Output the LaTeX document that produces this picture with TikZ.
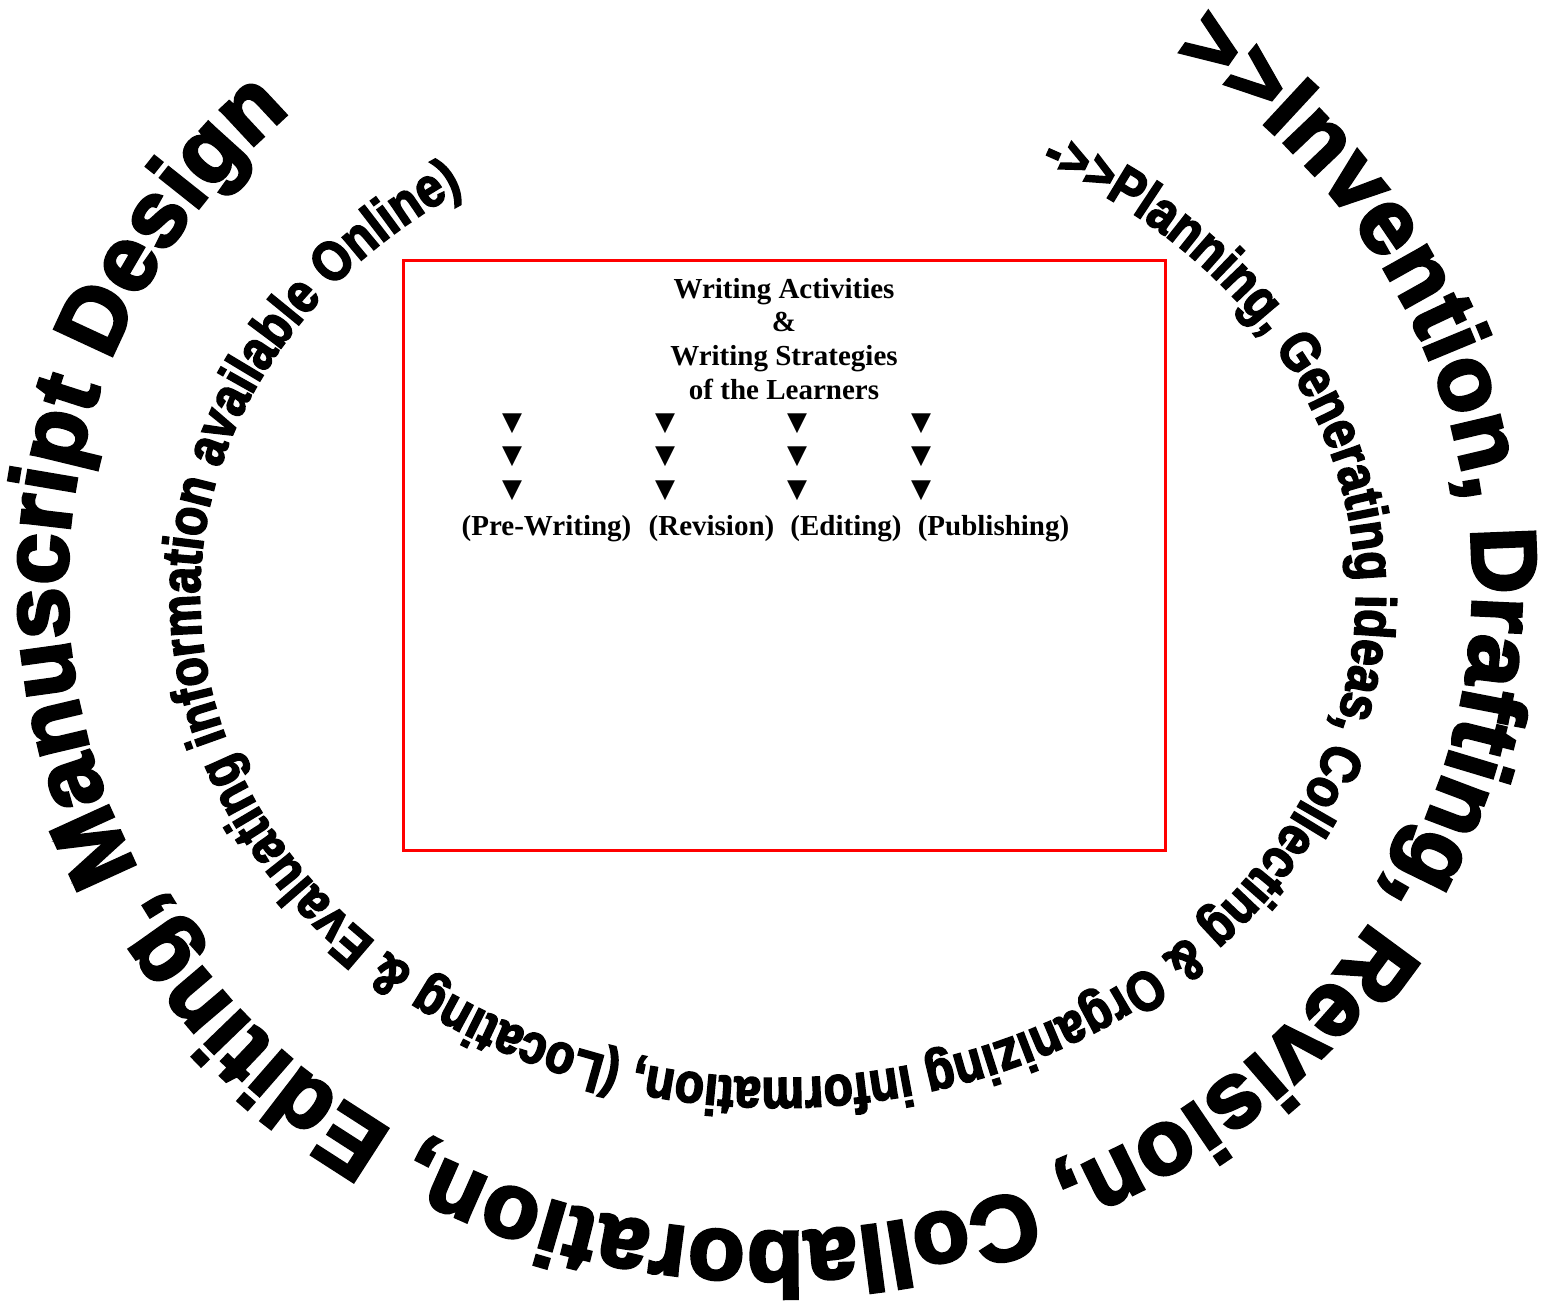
\documentclass[tikz,border=0pt]{standalone}
\usepackage{fontspec}
\usetikzlibrary{decorations.text}
\newfontfamily\arcfont{Liberation Sans Bold}[FakeBold=3.5]
\newfontfamily\innerfont{Liberation Sans Bold}[FakeBold=3, FakeStretch=0.85]
\newfontfamily\boxfont{Liberation Serif Bold}
\newfontfamily\symfont{DejaVu Sans}
\tikzset{
  boxtext/.style={font=\boxfont\fontsize{29}{29}\selectfont, anchor=base, inner sep=0pt},
  tri/.style={font=\symfont\fontsize{26}{26}\selectfont, inner sep=0pt, anchor=center},
  framebox/.style={draw=red, line width=3pt, inner sep=0pt, minimum width=762pt, minimum height=590pt}
}
\begin{document}
\begin{tikzpicture}[x=1pt,y=1pt]
\useasboundingbox (0,0) rectangle (1542,1311);
\fill[white] (0,0) rectangle (1542,1311);

% outer arc text
\path[decorate, decoration={text along path, text align={fit to path},
  text={|\arcfont\fontsize{92}{92}\selectfont|>>Invention, Drafting, Revision, Collaboration, Editing, Manuscript Design}}]
  (770,726) ++(55:703 and 647) arc[start angle=55, end angle=-227, x radius=703pt, y radius=647pt];

% inner arc text
\path[decorate, decoration={text along path, text align={fit to path},
  text={|\innerfont\fontsize{56}{56}\selectfont|->>Planning, Generating ideas, Collecting {\&} Organizing information, (Locating {\&} Evaluating information available Online)}}]
  (778,716) ++(63:578 and 483) arc[start angle=63, end angle=-237, x radius=578pt, y radius=483pt];

% central box
\node[framebox] (box) at (784,755) {};
\node[boxtext] (t1) at (784,1012) {Writing Activities};
\node[boxtext] (t2) at (784,979) {\&};
\node[boxtext] (t3) at (784,945) {Writing Strategies};
\node[boxtext] (t4) at (784,911) {of the Learners};

\foreach \x/\n in {512/a,665/b,797/c,921/d}{
  \node[tri] (\n1) at (\x,887) {▼};
  \node[tri] (\n2) at (\x,854) {▼};
  \node[tri] (\n3) at (\x,820) {▼};
}

\node[boxtext] (l1) at (546.5,775) {(Pre-Writing)};
\node[boxtext] (l2) at (711.5,775) {(Revision)};
\node[boxtext] (l3) at (846,775) {(Editing)};
\node[boxtext] (l4) at (993.5,775) {(Publishing)};
\end{tikzpicture}
\end{document}
